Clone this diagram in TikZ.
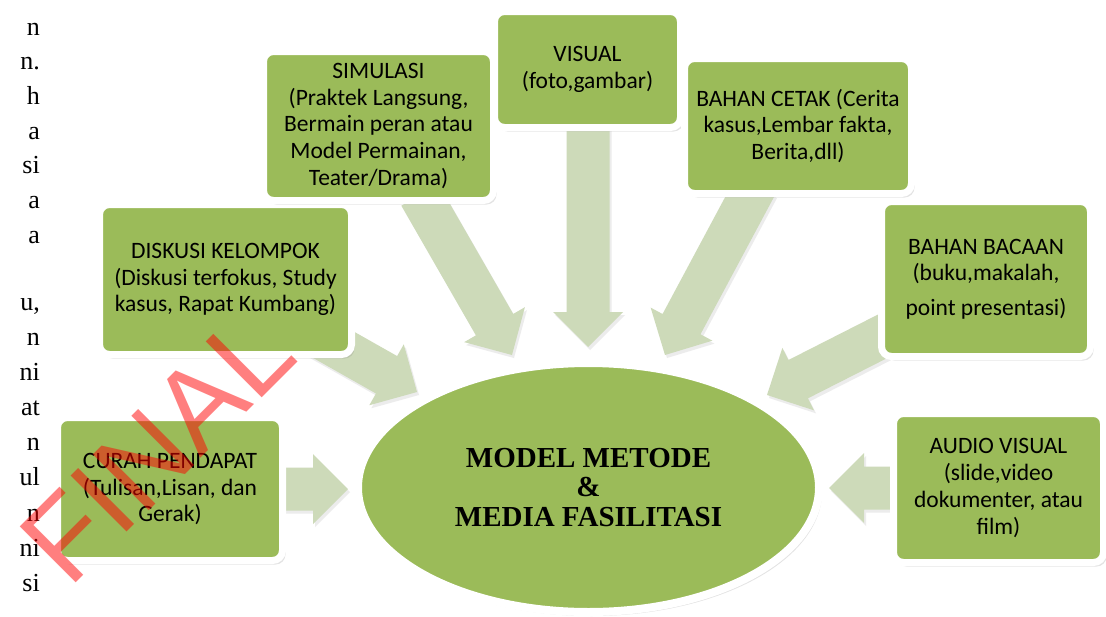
\documentclass[tikz,border=0pt]{standalone}
\usepackage{fontspec}
\setmainfont{Liberation Serif}
\newfontfamily\boxfont{Carlito}
\newfontfamily\wmfont{Liberation Sans}
\usetikzlibrary{calc,shapes.geometric,shadows}
\definecolor{boxgreen}{HTML}{9BBB59}
\definecolor{arrowgreen}{HTML}{CDDAB9}
\newcommand\blockarrow[3]{%
  \coordinate (#3b) at ($(#2)!35pt!(#1)$);
  \fill[arrowfill] ($(#1)!21.5pt!90:(#2)$) -- ($(#3b)!21.5pt!-90:(#1)$) -- ($(#3b)!35pt!-90:(#1)$) -- (#2) -- ($(#3b)!35pt!90:(#1)$) -- ($(#3b)!21.5pt!90:(#1)$) -- ($(#1)!21.5pt!-90:(#2)$) -- cycle;
}
\begin{document}
\begin{tikzpicture}[x=1pt,y=-1pt,
  mbox/.style={rectangle, rounded corners=10pt, fill=boxgreen, draw=white, line width=7pt, inner sep=0pt, align=center, text=black, font={\boxfont\fontsize{23.5}{26.7}\selectfont}, drop shadow={shadow xshift=3pt, shadow yshift=-4pt, opacity=0.22}},
  arrowfill/.style={fill=arrowgreen, drop shadow={shadow xshift=2pt, shadow yshift=-3pt, opacity=0.15}},
  centre/.style={ellipse, fill=boxgreen, draw=white, line width=8pt, inner sep=0pt, align=center, text=black, font={\bfseries\fontsize{29}{29.5}\selectfont}, drop shadow={shadow xshift=3pt, shadow yshift=-4pt, opacity=0.22}},
  lefttxt/.style={anchor=base east, inner sep=0pt, font={\fontsize{26}{26}\selectfont}}
]
\useasboundingbox (0,0) rectangle (1106,616);
\fill[white] (0,0) rectangle (1106,616);

% page text fragments on the left
\foreach \pgy/\pgt [count=\i] in {35/n, 69.6/n., 104/h, 139/a, 173/si, 208/a, 243/a, 310/{u,}, 345/n, 380/ni, 415/at, 450/n, 485/ul, 521/n, 556/ni, 591/si}
  \node[lefttxt] (p\i) at (40,\pgy) {\pgt};

% connector coordinates
\coordinate (s1) at (270,489);  \coordinate (t1) at (348,489);
\coordinate (s2) at (318,336);  \coordinate (t2) at (417,392);
\coordinate (s3) at (420,195);  \coordinate (t3) at (512,355);
\coordinate (s4) at (588,120);  \coordinate (t4) at (588,347);
\coordinate (s5) at (756,185);  \coordinate (t5) at (665,355);
\coordinate (s6) at (895,330);  \coordinate (t6) at (767,395);
\coordinate (s7) at (905,488);  \coordinate (t7) at (829,488);

\blockarrow{s1}{t1}{a1}
\blockarrow{s2}{t2}{a2}
\blockarrow{s3}{t3}{a3}
\blockarrow{s4}{t4}{a4}
\blockarrow{s5}{t5}{a5}
\blockarrow{s6}{t6}{a6}
\blockarrow{s7}{t7}{a7}

\node[centre, minimum width=461pt, minimum height=249pt] (core) at (588.5,487.5) {MODEL METODE\\\&\\MEDIA FASILITASI};

\node[mbox, minimum width=225pt, minimum height=143pt] (curah) at (170,489) {CURAH PENDAPAT\\(Tulisan,Lisan, dan\\Gerak)};
\node[mbox, minimum width=252pt, minimum height=150pt] (diskusi) at (225.5,279.5) {DISKUSI KELOMPOK\\(Diskusi terfokus, Study\\kasus, Rapat Kumbang)};
\node[mbox, minimum width=230pt, minimum height=149pt] (simulasi) at (378.5,126) {SIMULASI\\(Praktek Langsung,\\Bermain peran atau\\Model Permainan,\\Teater/Drama)};
\node[mbox, minimum width=186pt, minimum height=116pt] (visual) at (587.5,69.5) {VISUAL\\(foto,gambar)};
\node[mbox, minimum width=227pt, minimum height=135pt] (cetak) at (798,126) {BAHAN CETAK (Cerita\\kasus,Lembar fakta,\\Berita,dll)};
\node[mbox, minimum width=209pt, minimum height=155pt] (bacaan) at (986,279) {BAHAN BACAAN\\(buku,makalah,\\[8pt]point presentasi)};
\node[mbox, minimum width=210pt, minimum height=149pt] (audio) at (998.5,488) {AUDIO VISUAL\\(slide,video\\dokumenter, atau\\film)};

% watermark
\node[rotate=45, anchor=base west, inner sep=0pt, text=red, opacity=0.5, font={\wmfont\fontsize{115}{115}\selectfont}] (wm) at (69.7,589.7) {FINAL};
\end{tikzpicture}
\end{document}
